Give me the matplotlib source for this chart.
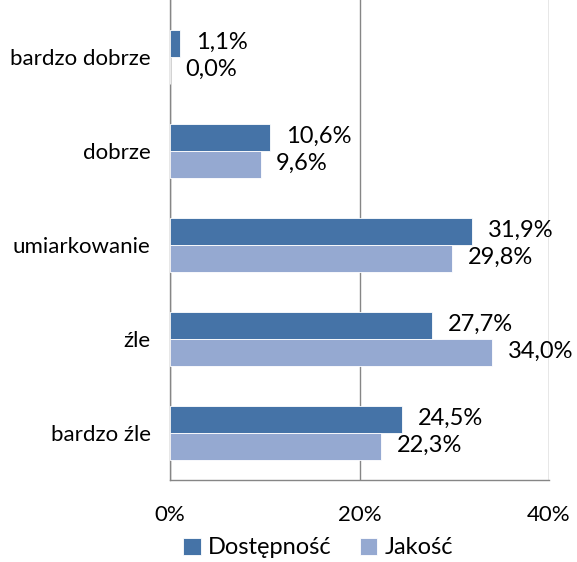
import numpy as np
import matplotlib.pyplot as plt

plt.rcParams['font.family'] = ['Lato', 'DejaVu Sans']

categories = ['bardzo dobrze', 'dobrze', 'umiarkowanie', 'źle', 'bardzo źle']
dostepnosc = [1.1, 10.6, 31.9, 27.7, 24.5]
jakosc = [0.0, 9.6, 29.8, 34.0, 22.3]
xticks = [0, 20, 40]

c_dark = '#4573A7'
c_light = '#95A9D1'
grey = '#868686'
fs = 16

fig = plt.figure(figsize=(5.77, 5.62), dpi=100)
ax = fig.add_axes([170 / 577, 1 - 480 / 562, 379 / 577, 480 / 562])

y = np.arange(len(categories))
h = 0.287
b1 = ax.barh(y - h / 2, dostepnosc, height=h, color=c_dark, edgecolor='white',
             linewidth=0.6, label='Dostępność', zorder=3)
b2 = ax.barh(y + h / 2, jakosc, height=h, color=c_light, edgecolor='white',
             linewidth=0.6, label='Jakość', zorder=3)

# etykiety danych z przecinkiem dziesiętnym
for bars, vals in [(b1, dostepnosc), (b2, jakosc)]:
    for bar, v in zip(bars, vals):
        ax.annotate(f"{v:.1f}".replace('.', ',') + '%',
                    (v, bar.get_y() + bar.get_height() / 2),
                    xytext=(11, 1), textcoords='offset points',
                    ha='left', va='center', fontsize=17, color='black')

ax.set_xlim(0, 40)
ax.set_ylim(4.5, -0.606)
ax.set_xticks(xticks)
ax.set_xticklabels([f"{t}%" for t in xticks])
ax.set_yticks(y)
ax.set_yticklabels(categories)
ax.tick_params(axis='x', length=0, pad=18, labelsize=fs)
ax.tick_params(axis='y', length=0, pad=14, labelsize=fs)

ax.grid(axis='x', color=grey, linewidth=1, zorder=0)
for s in ['left', 'bottom']:
    ax.spines[s].set_color(grey)
    ax.spines[s].set_linewidth(1)
for s in ['top', 'right']:
    ax.spines[s].set_visible(False)

fig.legend(handles=[b1, b2], loc='center', bbox_to_anchor=(318 / 577, 1 - 548 / 562),
           ncol=2, frameon=False, fontsize=17, handlelength=0.75, handleheight=0.75,
           handletextpad=0.3, columnspacing=1.2, borderpad=0)

fig.savefig('out.png', dpi=100)
